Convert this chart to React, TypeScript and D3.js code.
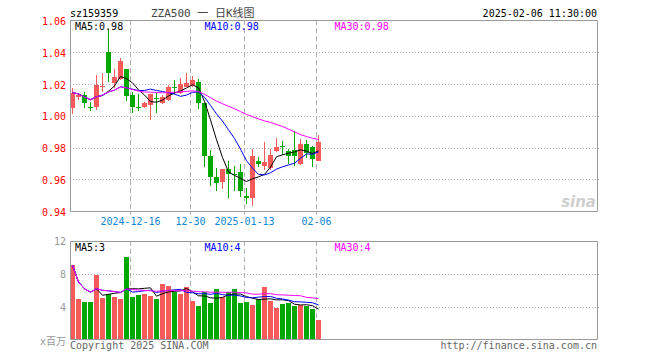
import React from "react";
import * as d3 from "d3";

const dates = [
  "2024-12-02","2024-12-03","2024-12-04","2024-12-05","2024-12-06",
  "2024-12-09","2024-12-10","2024-12-11","2024-12-12","2024-12-13",
  "2024-12-16","2024-12-17","2024-12-18","2024-12-19","2024-12-20",
  "2024-12-23","2024-12-24","2024-12-25","2024-12-26","2024-12-27",
  "2024-12-30","2024-12-31","2025-01-02","2025-01-03","2025-01-06",
  "2025-01-07","2025-01-08","2025-01-09","2025-01-10","2025-01-13",
  "2025-01-14","2025-01-15","2025-01-16","2025-01-17","2025-01-20",
  "2025-01-21","2025-01-22","2025-01-23","2025-01-24","2025-01-27",
  "2025-02-05","2025-02-06",
];
const opens = [
  1.0048, 1.012, 1.0131, 1.0055, 1.0054, 1.018, 1.0402, 1.0204, 1.0235, 1.0292,
  1.0131, 1.0056, 1.0054, 1.0065, 1.0115, 1.0079, 1.01, 1.0179, 1.0142, 1.0183,
  1.019, 1.0215, 1.0079, 0.9746, 0.9617, 0.9583, 0.9663, 0.9636, 0.9644, 0.9496,
  0.9479, 0.9714, 0.9683, 0.9669, 0.9777, 0.981, 0.9781, 0.9783, 0.9694, 0.9825,
  0.9804, 0.9714,
];
const highs = [
  1.0175, 1.014, 1.0152, 1.009, 1.0256, 1.0267, 1.0548, 1.0298, 1.0367, 1.0295,
  1.0152, 1.0138, 1.009, 1.014, 1.0142, 1.0131, 1.0194, 1.0225, 1.0236, 1.0271,
  1.025, 1.0229, 1.0079, 0.9783, 0.967, 0.9667, 0.9714, 0.9681, 0.9694, 0.9542,
  0.9788, 0.9742, 0.9833, 0.9788, 0.9863, 0.9844, 0.9791, 0.9906, 0.9853, 0.985,
  0.9808, 0.9881,
];
const lows = [
  1.0013, 1.01, 1.0048, 1.0033, 1.0038, 1.0152, 1.0214, 1.0173, 1.0225, 1.0094,
  1.0017, 1.0033, 1.0048, 0.9971, 1.0017, 1.0075, 1.0096, 1.0138, 1.0138, 1.0179,
  1.0183, 1.0042, 0.9677, 0.956, 0.9527, 0.9537, 0.9479, 0.9525, 0.9488, 0.9444,
  0.9429, 0.9679, 0.966, 0.9656, 0.9772, 0.9756, 0.9694, 0.9683, 0.9688, 0.9731,
  0.9678, 0.9713,
];
const closes = [
  1.0146, 1.013, 1.0079, 1.005, 1.0194, 1.0185, 1.0267, 1.0246, 1.0346, 1.0125,
  1.0054, 1.005, 1.0079, 1.0135, 1.011, 1.0121, 1.0179, 1.0173, 1.02, 1.0204,
  1.0225, 1.0079, 0.9746, 0.9617, 0.9579, 0.9663, 0.9631, 0.963, 0.9527, 0.9479,
  0.9746, 0.9694, 0.9708, 0.9756, 0.9806, 0.9806, 0.9746, 0.9747, 0.9825, 0.9763,
  0.9729, 0.9833,
];
const volumes = [
  9.1, 5.0, 4.6, 4.6, 7.9, 5.1, 5.6, 5.25, 5.0, 10.1,
  5.25, 5.5, 5.6, 5.3, 5.0, 6.8, 6.6, 5.9, 5.6, 6.45,
  4.75, 4.2, 5.8, 4.5, 6.2, 5.25, 5.8, 6.2, 4.5, 4.65,
  4.3, 5.0, 6.4, 4.75, 3.95, 4.4, 4.5, 4.2, 4.3, 4.1,
  3.8, 2.45,
];

const priceTicks = [0.94, 0.96, 0.98, 1.0, 1.02, 1.04, 1.06];
const volumeTicks = [4, 8, 12];
const dateTicks = ["2024-12-16", "2024-12-30", "2025-01-13", "2025-02-06"];
const dateTickLabels = ["2024-12-16", "12-30", "2025-01-13", "02-06"];
const maPeriods = [5, 10, 30];
const priceMaLabels = ["MA5:0.98", "MA10:0.98", "MA30:0.98"];
const volumeMaLabels = ["MA5:3", "MA10:4", "MA30:4"];
const maColors = ["#000000", "#0000ff", "#ff00ff"];

const UP = "#f65a5a";
const DOWN = "#00a800";
const BORDER = "#9a9a9a";
const GRID = "#b0b0b0";
const MONO = "'DejaVu Sans Mono', monospace";

function movingAvg(values: number[], n: number): number[] {
  return values.map((_, i) => d3.mean(values.slice(Math.max(0, i - n + 1), i + 1)) as number);
}

export default function App() {
  const left = 70;
  const right = 597;
  const pTop = 20;
  const pBottom = 211;
  const vTop = 241;
  const vBottom = 339;

  const idx = dates.map((_, i) => i);
  const x = d3.scaleLinear().domain([0, dates.length - 1]).range([70, 316]);
  const yP = d3.scaleLinear().domain([0.94, 1.06]).range([211, 20.6]);
  const yV = d3.scaleLinear().domain([0, 12]).range([340.2, 241.2]);

  const crisp = (v: number) => Math.round(v) + 0.5;

  const priceMAs = maPeriods.map((n) => movingAvg(closes, n));
  const volMAs = maPeriods.map((n) => movingAvg(volumes, n));

  const lineP = (vals: number[]) =>
    d3.line<number>().x((i) => x(i) + 2.5).y((i) => yP(vals[i]))(idx) || "";
  const lineV = (vals: number[]) =>
    d3.line<number>().x((i) => x(i) + 2.5).y((i) => yV(vals[i]))(idx) || "";

  const gridXs = dateTicks.map((d) => crisp(x(dates.indexOf(d))));

  return (
    <svg
      width={660}
      height={360}
      style={{ position: "absolute", left: 0, top: 0, display: "block", background: "#fff" }}
      fontFamily={MONO}
      fontSize={10}
    >
      {/* header */}
      <text x={70} y={17} fill="#000">sz159359</text>
      <text x={151} y={17} fill="#444" fontSize={11} fontFamily={`'DejaVu Sans Mono', 'Noto Sans CJK SC', monospace`}>
        ZZA500 一 日K线图
      </text>
      <text x={597} y={17} fill="#000" textAnchor="end">2025-02-06 11:30:00</text>

      {/* price grid */}
      {priceTicks.slice(1, -1).map((t) => (
        <line key={"pg" + t} x1={left} x2={right + 3} y1={crisp(yP(t))} y2={crisp(yP(t))} stroke={GRID} strokeDasharray="1,2" />
      ))}
      {gridXs.map((gx, k) => (
        <line key={"pv" + k} x1={gx} x2={gx} y1={pTop} y2={pBottom + 4} stroke={GRID} strokeDasharray="5,3" />
      ))}
      {priceTicks.map((t) => (
        <text key={"pt" + t} x={66} y={yP(t) + 4.5} fill="#ff0000" textAnchor="end">
          {t.toFixed(2)}
        </text>
      ))}

      {/* watermark */}
      <text x={596} y={207} fill="#cfcfcf" fontFamily="'DejaVu Sans', sans-serif" fontSize={15} fontStyle="italic" fontWeight="bold" textAnchor="end">
        sina
      </text>

      {/* candles */}
      {idx.map((i) => {
        const up = closes[i] > opens[i];
        const c = up ? UP : DOWN;
        const yTop = yP(Math.max(opens[i], closes[i]));
        const yBot = yP(Math.min(opens[i], closes[i]));
        return (
          <g key={"c" + i} shapeRendering="crispEdges">
            <rect x={x(i) + 2} y={yP(highs[i])} width={1} height={Math.max(1, yP(lows[i]) - yP(highs[i]))} fill={c} />
            <rect x={x(i)} y={yTop} width={5} height={Math.max(1, yBot - yTop)} fill={c} />
          </g>
        );
      })}

      {/* price MAs */}
      {priceMAs.map((vals, k) => (
        <path key={"pm" + k} d={lineP(vals)} fill="none" stroke={maColors[k]} strokeWidth={1} />
      ))}

      {/* price border */}
      <path d={`M${left + 0.5},${pTop + 0.5}H${right + 0.5}V${pBottom + 0.5}H${left + 0.5}Z`} fill="none" stroke={BORDER} />

      {priceMaLabels.map((s, k) => (
        <text key={"pl" + k} x={[75, 204.5, 334.5][k]} y={30} fill={maColors[k]}>
          {s}
        </text>
      ))}

      {/* date labels */}
      {dateTickLabels.map((s, k) => (
        <text key={"dl" + k} x={gridXs[k]} y={225} fill="#1486d4" textAnchor="middle">
          {s}
        </text>
      ))}

      {/* volume grid */}
      {volumeTicks.slice(0, 2).map((t) => (
        <line key={"vg" + t} x1={left} x2={right + 3} y1={crisp(yV(t))} y2={crisp(yV(t))} stroke={GRID} strokeDasharray="1,2" />
      ))}
      {gridXs.map((gx, k) => (
        <line key={"vv" + k} x1={gx} x2={gx} y1={vTop} y2={vBottom} stroke={GRID} strokeDasharray="5,3" />
      ))}
      {volumeTicks.map((t) => (
        <text key={"vt" + t} x={66} y={yV(t) + 3.5} fill="#999" textAnchor="end">
          {t}
        </text>
      ))}
      <text x={66} y={345} fill="#999" textAnchor="end" fontFamily={`'DejaVu Sans Mono', 'Noto Sans CJK SC', monospace`}>
        x百万
      </text>

      {/* volume bars */}
      {idx.map((i) => (
        <rect
          key={"v" + i}
          x={x(i)}
          y={yV(volumes[i])}
          width={5}
          height={vBottom - yV(volumes[i])}
          fill={closes[i] > opens[i] ? UP : DOWN}
          shapeRendering="crispEdges"
        />
      ))}

      {volMAs.map((vals, k) => (
        <path key={"vm" + k} d={lineV(vals)} fill="none" stroke={maColors[k]} strokeWidth={1} />
      ))}

      <path d={`M${left + 0.5},${vTop + 0.5}H${right + 0.5}V${vBottom + 0.5}H${left + 0.5}Z`} fill="none" stroke={BORDER} />

      {volumeMaLabels.map((s, k) => (
        <text key={"vl" + k} x={[75, 204.5, 334.5][k]} y={250.5} fill={maColors[k]}>
          {s}
        </text>
      ))}

      {/* footer */}
      <text x={70} y={349} fill="#666">Copyright 2025 SINA.COM</text>
      <text x={597} y={349} fill="#666" textAnchor="end">http://finance.sina.com.cn</text>
    </svg>
  );
}
